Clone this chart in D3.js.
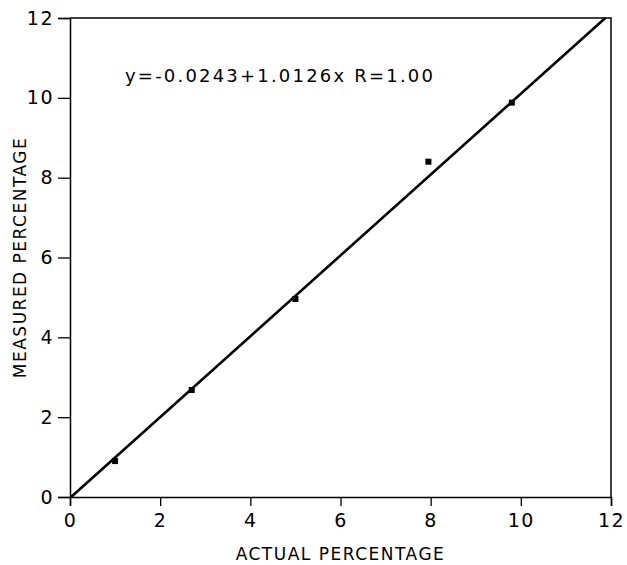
<!DOCTYPE html>
<html>
<head>
<meta charset="utf-8">
<script src="https://cdn.jsdelivr.net/npm/d3@7"></script>
<style>
  html, body { margin: 0; padding: 0; background: #fff; }
  svg text { font-family: "DejaVu Sans", sans-serif; fill: #000; }
</style>
</head>
<body>
<svg id="chart" width="627" height="565"></svg>
<script>
const actual   = [1.0, 2.7, 5.0, 7.95, 9.8];
const measured = [0.9, 2.68, 4.96, 8.4, 9.88];
const xTicks = [0, 2, 4, 6, 8, 10, 12];
const yTicks = [0, 2, 4, 6, 8, 10, 12];
const fitIntercept = -0.0243;
const fitSlope = 1.0126;
const equationLabel = "y=-0.0243+1.0126x R=1.00";
const xTitle = "ACTUAL PERCENTAGE";
const yTitle = "MEASURED PERCENTAGE";

const W = 627, H = 565;
const m = { left: 70, right: 16, top: 18, bottom: 68 };
const svg = d3.select("#chart");
const x = d3.scaleLinear().domain([0, 12]).range([m.left, W - m.right]);
const y = d3.scaleLinear().domain([0, 12]).range([H - m.bottom, m.top]);

// frame (top and right)
svg.append("path")
  .attr("d", `M${x(0)},${y(12)}H${x(12)}V${y(0)}`)
  .attr("fill", "none").attr("stroke", "#000").attr("stroke-width", 1.5);

const xAxis = svg.append("g")
  .attr("transform", `translate(0,${y(0)})`)
  .call(d3.axisBottom(x).tickValues(xTicks).tickSize(9).tickPadding(8).tickFormat(d3.format("d")));
const yAxis = svg.append("g")
  .attr("transform", `translate(${x(0)},0)`)
  .call(d3.axisLeft(y).tickValues(yTicks).tickSize(12).tickPadding(4).tickFormat(d3.format("d")));

[xAxis, yAxis].forEach(g => {
  g.select(".domain").attr("stroke", "#000").attr("stroke-width", 1.5);
  g.selectAll(".tick line").attr("stroke", "#000").attr("stroke-width", 1.3);
  g.selectAll("text").style("font-family", "DejaVu Sans, sans-serif")
    .style("font-size", "19px").attr("fill", "#000").style("letter-spacing", "1.5px");
});

// axis titles
svg.append("text")
  .attr("x", x(6)).attr("y", 560)
  .attr("text-anchor", "middle")
  .style("font-size", "17px").style("letter-spacing", "1.5px")
  .text(xTitle);
svg.append("text")
  .attr("transform", `translate(26,${y(6)}) rotate(-90)`)
  .attr("text-anchor", "middle")
  .style("font-size", "17px").style("letter-spacing", "1.5px")
  .text(yTitle);

// fit line from y=0 to y=12
const x0 = (0 - fitIntercept) / fitSlope;
const x1 = (12 - fitIntercept) / fitSlope;
svg.append("line")
  .attr("x1", x(x0)).attr("y1", y(fitIntercept + fitSlope * x0))
  .attr("x2", x(x1)).attr("y2", y(fitIntercept + fitSlope * x1))
  .attr("stroke", "#000").attr("stroke-width", 2.6);

// points
const pts = actual.map((a, i) => ({ a, m: measured[i] }));
svg.selectAll("rect.pt").data(pts).enter().append("rect")
  .attr("class", "pt")
  .attr("x", d => x(d.a) - 3).attr("y", d => y(d.m) - 3)
  .attr("width", 6).attr("height", 6).attr("fill", "#000");

// equation
svg.append("text")
  .attr("x", 125).attr("y", 82)
  .style("font-size", "18px").style("letter-spacing", "2.2px")
  .text(equationLabel);
</script>
</body>
</html>
